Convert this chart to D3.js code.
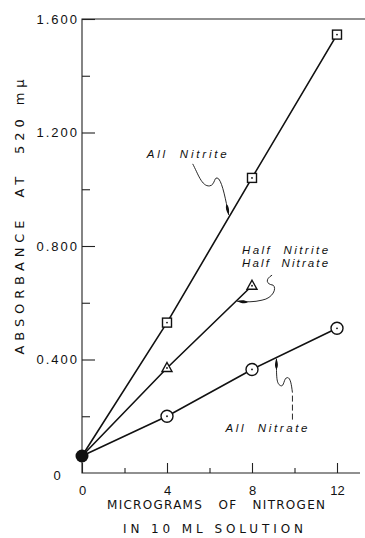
<!DOCTYPE html>
<html>
<head>
<meta charset="utf-8">
<script src="https://cdn.jsdelivr.net/npm/d3@7"></script>
<style>
  body { margin: 0; background: #fff; }
  svg { display: block; }
  text { font-family: "Liberation Sans", Arial, sans-serif; fill: #111; white-space: pre; }
  text.title { font-family: "DejaVu Sans", sans-serif; }
</style>
</head>
<body>
<svg id="chart" width="365" height="538"></svg>
<script>
// values
const microgramsN = [0, 4, 8, 12];
const allNitrite = [0.06, 0.53, 1.04, 1.545];
const halfNitrite = [0.06, 0.37, 0.66];
const allNitrate = [0.06, 0.2, 0.365, 0.51];
const blankValue = 0.06;

const yMajorTicks = [0.4, 0.8, 1.2, 1.6];
const yMinorTicks = [0.2, 0.6, 1.0, 1.4];
const xMajorTicks = [0, 4, 8, 12];
const xMinorTicks = [2, 6, 10];

const width = 365, height = 538;
const svg = d3.select("#chart");

const x = d3.scaleLinear().domain([0, 12]).range([82, 337]);
const y = d3.scaleLinear().domain([0, 1.6]).range([473, 19]);

const series = [
  { name: "nitrite", values: allNitrite, marker: "square" },
  { name: "half", values: halfNitrite, marker: "triangle" },
  { name: "nitrate", values: allNitrate, marker: "circle" },
];

// arrowhead for the leader lines
svg.append("defs").append("marker")
  .attr("id", "leadArrow")
  .attr("viewBox", "0 0 12 5")
  .attr("refX", 12).attr("refY", 2.5)
  .attr("markerWidth", 11).attr("markerHeight", 4.5)
  .attr("markerUnits", "userSpaceOnUse")
  .attr("orient", "auto")
  .append("path")
  .attr("d", "M0,2.5 C3,0 8,0.8 12,2.5 C8,4.2 3,5 0,2.5Z")
  .attr("fill", "#111");

// frame: top, left, bottom (no right side)
svg.append("path")
  .attr("d", `M${width},${y(1.6)} H${x(0)} V${y(0)} H${width - 5}`)
  .attr("fill", "none").attr("stroke", "#222").attr("stroke-width", 1.1);

// y axis
const yAxis = d3.axisLeft(y).tickValues(yMajorTicks).tickSize(-13)
  .tickPadding(3).tickFormat(d3.format(".3f"));
const yg = svg.append("g").attr("transform", `translate(${x(0)},0)`).call(yAxis);
yg.select(".domain").remove();
yg.selectAll("line").attr("stroke", "#222").attr("stroke-width", 1.1);
yg.selectAll("text").style("font-size", "13px").style("letter-spacing", "2px");

const yMinor = d3.axisLeft(y).tickValues(yMinorTicks).tickSize(-8).tickFormat("");
const ymg = svg.append("g").attr("transform", `translate(${x(0)},0)`).call(yMinor);
ymg.select(".domain").remove();
ymg.selectAll("line").attr("stroke", "#222").attr("stroke-width", 1.1);

// the lone "0" of the y axis sits further left
svg.append("text")
  .attr("x", x(0) - 25).attr("y", y(0) + 7)
  .attr("text-anchor", "middle")
  .style("font-size", "13px")
  .text("0");

// x axis
const xAxis = d3.axisBottom(x).tickValues(xMajorTicks).tickSize(-10).tickPadding(13);
const xg = svg.append("g").attr("transform", `translate(0,${y(0)})`).call(xAxis);
xg.select(".domain").remove();
xg.selectAll("line").attr("stroke", "#222").attr("stroke-width", 1.1);
xg.selectAll("text").style("font-size", "13px");

const xMinor = d3.axisBottom(x).tickValues(xMinorTicks).tickSize(-5).tickFormat("");
const xmg = svg.append("g").attr("transform", `translate(0,${y(0)})`).call(xMinor);
xmg.select(".domain").remove();
xmg.selectAll("line").attr("stroke", "#222").attr("stroke-width", 1.1);

// axis titles
svg.append("text").attr("class", "title")
  .attr("transform", "translate(24,217) rotate(-90)")
  .attr("text-anchor", "middle")
  .attr("textLength", 275).attr("lengthAdjust", "spacing")
  .style("font-size", "13px")
  .text("ABSORBANCE  AT  520 mμ");

svg.append("text").attr("class", "title")
  .attr("x", 216).attr("y", 509)
  .attr("text-anchor", "middle")
  .attr("textLength", 218).attr("lengthAdjust", "spacing")
  .style("font-size", "12px")
  .text("MICROGRAMS   OF   NITROGEN");

svg.append("text").attr("class", "title")
  .attr("x", 213).attr("y", 533)
  .attr("text-anchor", "middle")
  .attr("textLength", 180).attr("lengthAdjust", "spacing")
  .style("font-size", "12px")
  .text("IN 10 ML SOLUTION");

// lines
const line = d3.line()
  .x((d, i) => x(microgramsN[i]))
  .y(d => y(d));

svg.append("g").selectAll("path")
  .data(series)
  .join("path")
  .attr("d", d => line(d.values))
  .attr("fill", "none")
  .attr("stroke", "#111")
  .attr("stroke-width", 1.6);

// markers (index 0 is the shared blank, drawn separately)
const pts = [];
series.forEach(s => {
  s.values.forEach((v, i) => {
    if (i > 0) pts.push({ marker: s.marker, px: x(microgramsN[i]), py: y(v) });
  });
});

const mg = svg.append("g");
const markerG = mg.selectAll("g").data(pts).join("g")
  .attr("transform", d => `translate(${d.px},${d.py})`);

markerG.filter(d => d.marker === "square").append("rect")
  .attr("x", -4.5).attr("y", -4.5).attr("width", 9).attr("height", 9);
markerG.filter(d => d.marker === "triangle").append("path")
  .attr("d", "M0,-5.5 L5,3.5 L-5,3.5Z");
markerG.filter(d => d.marker === "circle").append("circle")
  .attr("r", 6);
markerG.selectAll("rect, path, circle")
  .attr("fill", "#fff").attr("stroke", "#111").attr("stroke-width", 1.4);
markerG.append("circle").attr("r", 0.9).attr("fill", "#111");

// blank reading at zero
svg.append("circle")
  .attr("cx", x(0)).attr("cy", y(blankValue))
  .attr("r", 6.5).attr("fill", "#111");

// annotations, anchored on the lines
function onLine(values, xv) {
  const i = Math.min(Math.floor(xv / 4), values.length - 2);
  const t = (xv - microgramsN[i]) / 4;
  return [x(xv), y(values[i] + t * (values[i + 1] - values[i]))];
}

function label(ax, ay, dx, dy, txt, len) {
  svg.append("text")
    .attr("x", ax + dx).attr("y", ay + dy)
    .attr("textLength", len).attr("lengthAdjust", "spacing")
    .style("font-size", "11.5px").style("font-style", "italic")
    .text(txt);
}

function leader(d, dashed) {
  return svg.append("path")
    .attr("d", d)
    .attr("fill", "none")
    .attr("stroke", "#111")
    .attr("stroke-width", 0.9)
    .attr("stroke-dasharray", dashed ? "6,3" : null);
}

// All Nitrite
{
  const [ax, ay] = onLine(allNitrite, 6.95);
  label(ax, ay, -83, -58, "All  Nitrite", 80);
  leader(`M${ax - 37},${ay - 52} C${ax - 32},${ay - 43} ${ax - 28},${ay - 29} ${ax - 20},${ay - 30}
    C${ax - 14},${ay - 31} ${ax - 16},${ay - 41} ${ax - 11},${ay - 37}
    C${ax - 7},${ay - 32} ${ax - 4},${ay - 16} ${ax - 1},${ay - 1}`)
    .attr("marker-end", "url(#leadArrow)");
}

// Half Nitrite / Half Nitrate
{
  const [ax, ay] = onLine(halfNitrite, 7.25);
  label(ax, ay, 6, -47, "Half  Nitrite", 86);
  label(ax, ay, 6, -34, "Half  Nitrate", 86);
  leader(`M${ax + 36},${ay - 26} C${ax + 29},${ay - 22} ${ax + 30},${ay - 17} ${ax + 37},${ay - 16}
    C${ax + 41},${ay - 13} ${ax + 37},${ay - 3} ${ax + 26},${ay - 1}
    C${ax + 18},${ay + 1} ${ax + 10},${ay + 1} ${ax + 1},${ay}`)
    .attr("marker-end", "url(#leadArrow)");
}

// All Nitrate
{
  const [ax, ay] = onLine(allNitrate, 9.15);
  label(ax, ay, -51, 74, "All  Nitrate", 82);
  leader(`M${ax + 16},${ay + 62} V${ay + 35}`, true);
  leader(`M${ax + 16},${ay + 35} C${ax + 15},${ay + 27} ${ax + 14},${ay + 20} ${ax + 11},${ay + 20}
    C${ax + 7},${ay + 20} ${ax + 8},${ay + 30} ${ax + 4},${ay + 28}
    C${ax},${ay + 26} ${ax},${ay + 20} ${ax},${ay + 1}`)
    .attr("marker-end", "url(#leadArrow)");
}
</script>
</body>
</html>
